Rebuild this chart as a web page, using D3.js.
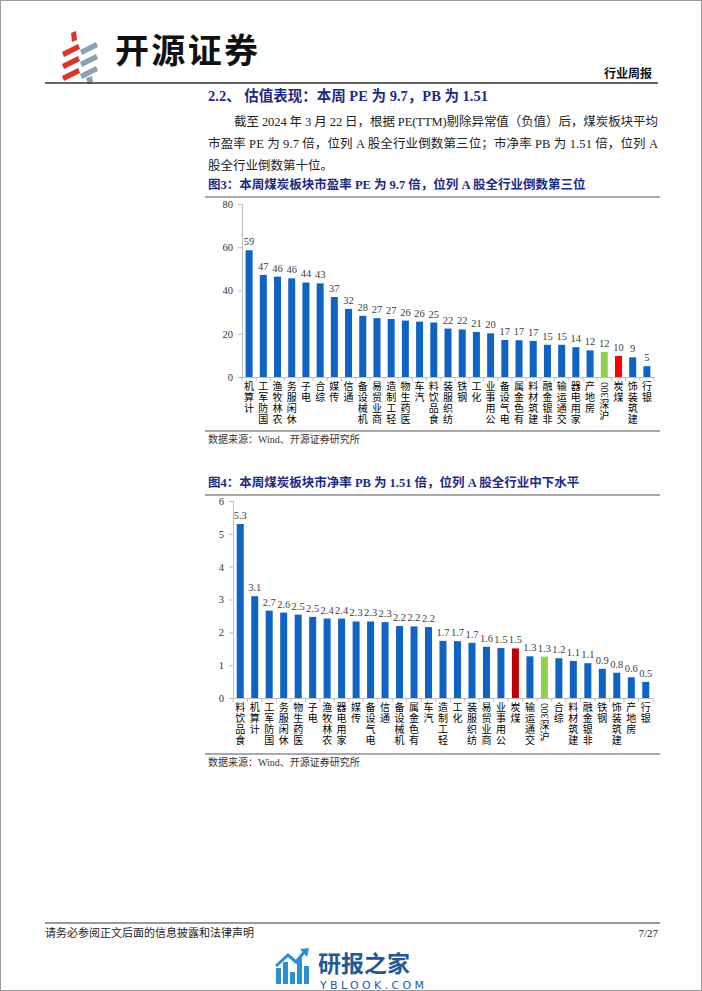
<!DOCTYPE html>
<html><head><meta charset="utf-8">
<script src="https://cdn.jsdelivr.net/npm/d3@7/dist/d3.min.js"></script>
<style>
html,body{margin:0;padding:0;background:#fff;}
svg{display:block;}
</style></head>
<body>
<svg id="page" width="702" height="991"></svg>
<script>
// ---------------- DATA ----------------
const peCategories = ["计算机","国防军工","农林牧渔","休闲服务","电子","综合","传媒","通信","机械设备","商业贸易","轻工制造","医药生物","汽车","食品饮料","纺织服装","钢铁","化工","公用事业","电气设备","有色金属","建筑材料","非银金融","交通运输","家用电器","房地产","沪深300","煤炭","建筑装饰","银行"];
const peValues = [58.6,47.2,46.4,45.6,43.7,43.3,37.0,31.5,28.3,27.2,26.8,26.1,25.6,25.2,22.4,22.0,20.8,20.2,17.1,17.0,16.7,14.9,14.9,13.8,12.3,11.6,9.7,9.1,5.0];
const peTicks = [0,20,40,60,80];

const pbCategories = ["食品饮料","计算机","国防军工","休闲服务","医药生物","电子","农林牧渔","家用电器","传媒","电气设备","通信","机械设备","有色金属","汽车","轻工制造","化工","纺织服装","商业贸易","公用事业","煤炭","交通运输","沪深300","综合","建筑材料","非银金融","钢铁","建筑装饰","房地产","银行"];
const pbValues = [5.30,3.10,2.66,2.60,2.54,2.47,2.42,2.42,2.33,2.33,2.31,2.19,2.18,2.16,1.74,1.73,1.68,1.56,1.52,1.51,1.27,1.26,1.21,1.13,1.06,0.89,0.77,0.63,0.49];
const pbTicks = [0,1,2,3,4,5,6];

const highlightCoal = "煤炭";
const highlightIndex = "沪深300";

// ---------------- PAGE ----------------
const svg = d3.select("#page");
const SERIF = "'Liberation Serif','Times New Roman','Noto Sans CJK SC',serif";
const CJK = "'Noto Sans CJK SC','Liberation Serif',sans-serif";
const NAVY = "#1c2a85";

svg.append("rect").attr("x",0.5).attr("y",0.5).attr("width",701).attr("height",990)
  .attr("fill","#fff").attr("stroke","#9a9a9a").attr("stroke-width",1);

// logo icon
const logo = svg.append("g");
[[62,46],[62,58],[62,70]].forEach(([x,y])=>{
  logo.append("path").attr("d",`M${x},${y+6} L${x+16},${y-2} L${x+18},${y+3} L${x+2},${y+11} Z`).attr("fill","#d9342b");
});
logo.append("path").attr("d","M71,33 L76,31 L77,40 L72,42 Z").attr("fill","#d9342b");
[[80,44],[80,56],[80,68]].forEach(([x,y])=>{
  logo.append("path").attr("d",`M${x},${y+6} L${x+16},${y-2} L${x+18},${y+3} L${x+2},${y+11} Z`).attr("fill","#8aa0b4");
});
logo.append("path").attr("d","M86,78 L92,76 L93,82 L88,84 Z").attr("fill","#8aa0b4");
svg.append("text").attr("x",115).attr("y",63).attr("font-family",CJK).attr("font-weight",700)
  .attr("font-size",34).attr("fill","#111").attr("textLength",143).text("开源证券");

svg.append("text").attr("x",652).attr("y",78).attr("text-anchor","end").attr("font-family",CJK)
  .attr("font-weight",700).attr("font-size",12).attr("fill","#111").text("行业周报");
svg.append("line").attr("x1",45).attr("x2",658).attr("y1",83).attr("y2",83).attr("stroke","#333").attr("stroke-width",1.3);

// section heading
svg.append("text").attr("x",208).attr("y",101).attr("font-family",SERIF).attr("font-weight",700)
  .attr("font-size",14.5).attr("fill",NAVY).text("2.2、 估值表现：本周 PE 为 9.7，PB 为 1.51");

// body text
const body = [
  {x:234, w:424, t:"截至 2024 年 3 月 22 日，根据 PE(TTM)剔除异常值（负值）后，煤炭板块平均"},
  {x:208, w:450, t:"市盈率 PE 为 9.7 倍，位列 A 股全行业倒数第三位；市净率 PB 为 1.51 倍，位列 A"},
  {x:208, w:null, t:"股全行业倒数第十位。"}
];
body.forEach((b,i)=>{
  const t = svg.append("text").attr("x",b.x).attr("y",126+i*22).attr("font-family",SERIF)
    .attr("font-size",12.5).attr("fill","#222").text(b.t);
  if(b.w) t.attr("textLength",b.w).attr("lengthAdjust","spacing");
});

// ---------------- CHART HELPERS ----------------
// labels read bottom -> top: CJK glyphs upright, Latin/digit runs rotated -90
function stackedLabel(g, x, yTop, text){
  const tokens = text.match(/[0-9A-Za-z]+|./g);
  let y = yTop;
  tokens.slice().reverse().forEach(tok=>{
    if(/^[0-9A-Za-z]+$/.test(tok)){
      const len = tok.length*5.6;
      g.append("text").attr("transform",`translate(${x+3.5},${y+len/2+0.5}) rotate(-90)`)
        .attr("text-anchor","middle").attr("font-family",SERIF).attr("font-size",10.5)
        .attr("fill","#000").text(tok);
      y += len+1.5;
    } else {
      g.append("text").attr("x",x).attr("y",y+9).attr("text-anchor","middle")
        .attr("font-family",SERIF).attr("font-size",10).attr("fill","#000").text(tok);
      y += 11;
    }
  });
}

function drawChart(opts){
  const {cats, vals, ticks, x0, x1, yBase, yTop, title, titleY, lineY, srcLineY, fmt, coalColor, labelTop, labelSize} = opts;
  const g = svg.append("g");
  g.append("text").attr("x",208).attr("y",titleY).attr("font-family",SERIF).attr("font-weight",700)
    .attr("font-size",12.5).attr("fill",NAVY).text(title);
  g.append("line").attr("x1",205).attr("x2",660).attr("y1",lineY).attr("y2",lineY)
    .attr("stroke","#8c8c8c").attr("stroke-width",1.6);

  const x = d3.scaleBand().domain(cats).range([x0,x1]).paddingInner(0).paddingOuter(0);
  const y = d3.scaleLinear().domain([ticks[0],ticks[ticks.length-1]]).range([yBase,yTop]);

  const ya = g.append("g").attr("transform",`translate(${x0},0)`)
    .call(d3.axisLeft(y).tickValues(ticks).tickSize(4).tickPadding(5).tickFormat(d3.format("d")));
  ya.select(".domain").attr("stroke","#bfbfbf");
  ya.selectAll(".tick line").attr("stroke","#bfbfbf");
  ya.selectAll("text").attr("font-family",SERIF).attr("font-size",10.5).attr("fill","#333");

  const xa = g.append("g").attr("transform",`translate(0,${yBase})`)
    .call(d3.axisBottom(x).tickSize(0).tickFormat(""));
  xa.select(".domain").attr("stroke","#bfbfbf");
  const bounds = cats.map((c,i)=>x0 + i*x.bandwidth()).concat([x1]);
  g.selectAll(".xt").data(bounds).join("line").attr("x1",d=>d).attr("x2",d=>d)
    .attr("y1",yBase).attr("y2",yBase+4).attr("stroke","#bfbfbf");

  const bw = 7;
  const color = c => c===highlightCoal ? coalColor : (c===highlightIndex ? "#92d050" : "#0f63c2");
  g.selectAll(".bar").data(cats).join("rect")
    .attr("x",d=>x(d)+x.bandwidth()/2-bw/2).attr("width",bw)
    .attr("y",(d,i)=>y(vals[i])).attr("height",(d,i)=>yBase-y(vals[i]))
    .attr("fill",color);

  g.selectAll(".vl").data(cats).join("text")
    .attr("x",d=>x(d)+x.bandwidth()/2).attr("y",(d,i)=>y(vals[i])-5)
    .attr("text-anchor","middle").attr("font-family",SERIF).attr("font-size",labelSize)
    .attr("fill","#404040").text((d,i)=>fmt(vals[i]));

  cats.forEach(c=>stackedLabel(g, x(c)+x.bandwidth()/2, labelTop, c));

  g.append("line").attr("x1",205).attr("x2",660).attr("y1",srcLineY).attr("y2",srcLineY)
    .attr("stroke","#8c8c8c").attr("stroke-width",1.3);
  g.append("text").attr("x",208).attr("y",srcLineY+12).attr("font-family",SERIF)
    .attr("font-size",10).attr("fill","#333").text("数据来源：Wind、开源证券研究所");
}

drawChart({
  cats: peCategories, vals: peValues, ticks: peTicks,
  x0: 242, x1: 654, yBase: 377, yTop: 204,
  title: "图3：本周煤炭板块市盈率 PE 为 9.7 倍，位列 A 股全行业倒数第三位",
  titleY: 189, lineY: 197, srcLineY: 431, fmt: d3.format(".0f"), coalColor: "#ff0000",
  labelTop: 381, labelSize: 10.5
});

drawChart({
  cats: pbCategories, vals: pbValues, ticks: pbTicks,
  x0: 233, x1: 653, yBase: 698, yTop: 501,
  title: "图4：本周煤炭板块市净率 PB 为 1.51 倍，位列 A 股全行业中下水平",
  titleY: 487, lineY: 495, srcLineY: 754, fmt: d3.format(".1f"), coalColor: "#c00000",
  labelTop: 702, labelSize: 10.5
});

// ---------------- FOOTER ----------------
svg.append("line").attr("x1",45).attr("x2",660).attr("y1",923).attr("y2",923).attr("stroke","#777").attr("stroke-width",1.6);
svg.append("text").attr("x",45).attr("y",937).attr("font-family",CJK).attr("font-size",11)
  .attr("fill","#222").text("请务必参阅正文后面的信息披露和法律声明");
svg.append("text").attr("x",658).attr("y",937).attr("text-anchor","end").attr("font-family",SERIF)
  .attr("font-size",11).attr("fill","#222").text("7/27");

// watermark
const wm = svg.append("g");
[[276,968,5,16],[283,962,5,22],[290,972,5,12],[297,958,5,26],[304,966,5,18]].forEach(([x,y,w,h])=>{
  wm.append("rect").attr("x",x).attr("y",y).attr("width",w).attr("height",h).attr("fill","#2a8fd4");
});
wm.append("path").attr("d","M276,966 L288,955 L296,962 L305,951").attr("fill","none").attr("stroke","#2a8fd4").attr("stroke-width",3);
wm.append("path").attr("d","M300,949 L309,948 L307,957 Z").attr("fill","#2a8fd4");
wm.append("text").attr("x",318).attr("y",972).attr("font-family",CJK).attr("font-weight",700)
  .attr("font-size",23).attr("fill","#1f5a96").text("研报之家");
wm.append("text").attr("x",320).attr("y",989).attr("font-family","'DejaVu Sans',sans-serif")
  .attr("font-size",11).attr("fill","#1f5a96").attr("textLength",104).text("YBLOOK.COM");
</script>
</body></html>
